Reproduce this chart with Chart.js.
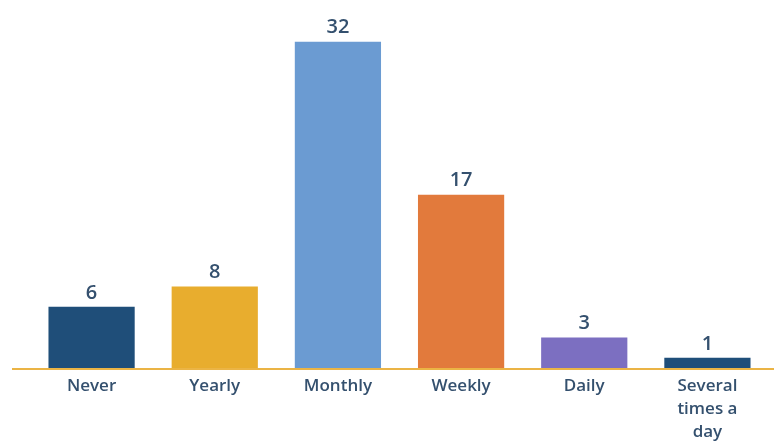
<!DOCTYPE html>
<html>
<head>
<meta charset="utf-8">
<script src="https://cdn.jsdelivr.net/npm/chart.js@4"></script>
<style>
  html, body { margin: 0; padding: 0; background: #fff; }
  #wrap { width: 774px; height: 446px; }
</style>
</head>
<body>
<div id="wrap"><canvas id="bar-chart"></canvas></div>
<script>
const categories = ['Never', 'Yearly', 'Monthly', 'Weekly', 'Daily', ['Several', 'times a', 'day']];
const counts = [6, 8, 32, 17, 3, 1];
const barColors = ['#1f4e79', '#e8ad2e', '#6b9bd2', '#e27a3c', '#7c6fc1', '#1f4e79'];

const TEXT = '#34506e';

// value labels on top of each bar
const valueLabels = {
  id: 'valueLabels',
  afterDatasetsDraw(chart) {
    const ctx = chart.ctx;
    const meta = chart.getDatasetMeta(0);
    ctx.save();
    ctx.fillStyle = TEXT;
    ctx.font = '600 20px "Open Sans"';
    ctx.textAlign = 'center';
    ctx.textBaseline = 'bottom';
    meta.data.forEach(function (bar, i) {
      const p = bar.getProps(['x', 'y'], true);
      ctx.fillText(counts[i], p.x, p.y - 4);
    });
    ctx.restore();
  }
};

// gold baseline running across the whole width
const baseLine = {
  id: 'baseLine',
  afterDatasetsDraw(chart) {
    const ctx = chart.ctx;
    const y = chart.scales.y.getPixelForValue(0);
    ctx.save();
    ctx.strokeStyle = '#ebb445';
    ctx.lineWidth = 2;
    ctx.beginPath();
    ctx.moveTo(12, y + 1);
    ctx.lineTo(chart.width, y + 1);
    ctx.stroke();
    ctx.restore();
  }
};

new Chart(document.getElementById('bar-chart'), {
  type: 'bar',
  data: {
    labels: categories,
    datasets: [{
      data: counts,
      backgroundColor: barColors,
      borderWidth: 0,
      barPercentage: 0.7,
      categoryPercentage: 1
    }]
  },
  options: {
    responsive: true,
    maintainAspectRatio: false,
    animation: false,
    layout: { padding: { left: 30, right: 5, top: 1, bottom: 0 } },
    plugins: {
      legend: { display: false },
      tooltip: { enabled: false }
    },
    scales: {
      x: {
        grid: { display: false, drawTicks: false },
        border: { display: false },
        ticks: {
          color: TEXT,
          padding: 6,
          font: { family: 'Open Sans', size: 17, weight: '600', lineHeight: 1.38 }
        },
        afterFit: function (scale) { scale.height = 78; }
      },
      y: {
        display: false,
        min: 0,
        max: 36
      }
    }
  },
  plugins: [valueLabels, baseLine]
});
</script>
</body>
</html>
